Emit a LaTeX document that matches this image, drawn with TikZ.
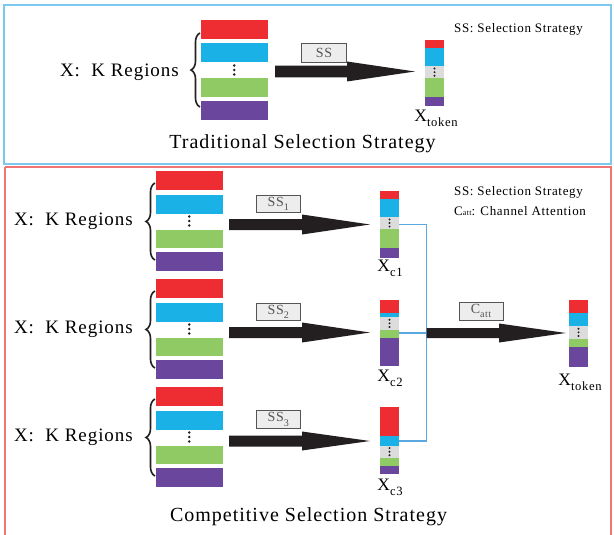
\documentclass[tikz,border=0pt]{standalone}
\usepackage{fontspec}
\setmainfont[LetterSpace=5]{Liberation Serif}
\usetikzlibrary{decorations.pathreplacing,calc}
\definecolor{cred}{HTML}{EE2D32}
\definecolor{ccyan}{HTML}{19B1E6}
\definecolor{cgreen}{HTML}{8FCA64}
\definecolor{cpurple}{HTML}{6A479C}
\definecolor{cgray}{HTML}{DCDCDC}
\definecolor{carrow}{HTML}{231F20}
\definecolor{cblue}{HTML}{5BA7E0}
\definecolor{cframeblue}{HTML}{7CC8EE}
\definecolor{cframered}{HTML}{F07575}
\definecolor{ctag}{HTML}{555555}
\newcommand{\lsub}[1]{\raisebox{-0.3em}{\fontsize{0.72em}{0.72em}\selectfont #1}}
\tikzset{
  tagbox/.style={draw=ctag, fill=black!7, line width=0.8pt, inner sep=0pt, text=ctag, font=\fontsize{14}{14}\selectfont},
  regionlabel/.style={font=\fontsize{19}{19}\selectfont, anchor=base east, inner sep=0pt},
  outlabel/.style={font=\fontsize{17.5}{17.5}\selectfont, anchor=base, inner sep=0pt},
  legend/.style={font=\fontsize{13}{13}\selectfont, anchor=base west, inner sep=0pt},
  title/.style={font=\fontsize{20}{20}\selectfont, anchor=base, inner sep=0pt},
  bracestyle/.style={decorate, decoration={brace, amplitude=9pt}, line width=1.6pt, carrow},
  feed/.style={draw=cblue, line width=1.3pt},
  holder/.style={inner sep=0pt, anchor=north west},
}
% big stack: name, x, ytop
\newcommand{\bigstack}[3]{%
  \node[holder, minimum width=66.7pt, minimum height=100pt] (#1) at (#2,#3) {};
  \fill[cred] (#2,#3) rectangle ++(66.7,19);
  \fill[ccyan] ($(#2,#3)+(0,23.5)$) rectangle ++(66.7,19);
  \fill[cgreen] ($(#2,#3)+(0,58.5)$) rectangle ++(66.7,18.5);
  \fill[cpurple] ($(#2,#3)+(0,81)$) rectangle ++(66.7,19);
  \foreach \d in {45.5,50,54.5} \fill[carrow] ($(#2,#3)+(33.3,\d)$) circle (1.4);
}
% small stack: name, x, ytop, red, cyan, gray, green, purple
\newcommand{\smallstack}[8]{%
  \node[holder, minimum width=19pt, minimum height=66pt] (#1) at (#2,#3) {};
  \fill[cred] (#2,#3) rectangle ++(19,#4);
  \fill[ccyan] ($(#2,#3)+(0,#4)$) rectangle ++(19,#5);
  \fill[cgray] ($(#2,#3)+(0,#4+#5)$) rectangle ++(19,#6);
  \fill[cgreen] ($(#2,#3)+(0,#4+#5+#6)$) rectangle ++(19,#7);
  \fill[cpurple] ($(#2,#3)+(0,#4+#5+#6+#7)$) rectangle ++(19,#8);
  \foreach \d in {-3.6,0,3.6} \fill[carrow] ($(#2,#3)+(9.5,#4+#5+0.5*#6+\d)$) circle (1.1);
}
% fat arrow: x0, xhead, xtip, yc, shaft half, head half
\newcommand{\fatarrow}[6]{%
  \fill[carrow] (#1,#4-#5) -- (#2,#4-#5) -- (#2,#4-#6) -- (#3,#4) -- (#2,#4+#6) -- (#2,#4+#5) -- (#1,#4+#5) -- cycle;
}
\begin{document}
\begin{tikzpicture}[x=1pt,y=-1pt]
\useasboundingbox (0,0) rectangle (614,535);
% frames
\draw[cframeblue, line width=1.3pt] (4,5) rectangle (611,164);
\draw[cframered, line width=1.3pt] (5,167) -- (611,167) -- (611,540);
\draw[cframered, line width=1.3pt] (5,167) -- (5,540);

% ---------- top: traditional ----------
\node[regionlabel] (lt) at (179,76.5) {X:\ \ K Regions};
\bigstack{st}{201}{20}
\draw[bracestyle] (200,107) -- (200,33);
\fatarrow{275}{347}{415}{71.5}{5.8}{10}
\node[tagbox, minimum width=45pt, minimum height=19pt] (sst) at (324,52.5) {SS};
\smallstack{tt}{425}{40}{8}{18}{12.3}{18.7}{9}
\node[outlabel] (xt) at (436,121.5) {X\lsub{token}};
\node[legend] (lg1) at (454,33) {SS: Selection Strategy};
\node[title] (tt1) at (302.5,148.5) {Traditional Selection Strategy};

% ---------- bottom: competitive ----------
\node[regionlabel] (l1) at (133,225) {X:\ \ K Regions};
\node[regionlabel] (l2) at (133,333) {X:\ \ K Regions};
\node[regionlabel] (l3) at (133,441) {X:\ \ K Regions};
\bigstack{s1}{156}{171}
\bigstack{s2}{156}{279}
\bigstack{s3}{156}{387}
\draw[bracestyle] (155,260) -- (155,183);
\draw[bracestyle] (155,368) -- (155,291);
\draw[bracestyle] (155,476) -- (155,399);
\fatarrow{229}{302}{370}{224.5}{5.5}{10}
\fatarrow{229}{302}{370}{332.5}{5.5}{10}
\fatarrow{229}{302}{370}{441}{5.5}{9.5}
\node[tagbox, minimum width=44.7pt, minimum height=17.7pt] (ss1) at (278.3,204) {SS\lsub{1}};
\node[tagbox, minimum width=44.7pt, minimum height=17.7pt] (ss2) at (278.3,312) {SS\lsub{2}};
\node[tagbox, minimum width=44.7pt, minimum height=17.7pt] (ss3) at (278.3,419.4) {SS\lsub{3}};
\smallstack{c1}{380}{191}{8.3}{17.4}{12.6}{18.7}{9.7}
\smallstack{c2}{380}{300}{12.7}{4}{13.3}{7.7}{28.3}
\smallstack{c3}{380}{406.7}{29.3}{9.7}{12}{8.3}{8}
\node[outlabel] (xc1) at (390,271.5) {X\lsub{c1}};
\node[outlabel] (xc2) at (390,381) {X\lsub{c2}};
\node[outlabel] (xc3) at (390,490) {X\lsub{c3}};
% channel attention feed lines
\coordinate (j1) at (426.7,224.5);
\coordinate (j2) at (426.7,333);
\coordinate (j3) at (426.7,441);
\draw[feed] (c1.east |- j1) -- (j1) -- (j3) -- (c3.east |- j3);
\draw[feed] (c2.east |- j2) -- (j2);
\fatarrow{426.7}{499}{566}{333}{5}{9.5}
\node[tagbox, minimum width=44pt, minimum height=18pt] (catt) at (481,311) {C\lsub{att}};
\smallstack{tk}{569}{300}{12.7}{13}{13.3}{7.7}{20}
\node[outlabel] (xtk) at (580,385) {X\lsub{token}};
\node[legend] (lg2) at (454,195) {SS: Selection Strategy};
\node[legend] (lg3) at (454,215) {C{\fontsize{8}{8}\selectfont att}: Channel Attention};
\node[title] (tt2) at (308.5,521.5) {Competitive Selection Strategy};
\end{tikzpicture}
\end{document}
